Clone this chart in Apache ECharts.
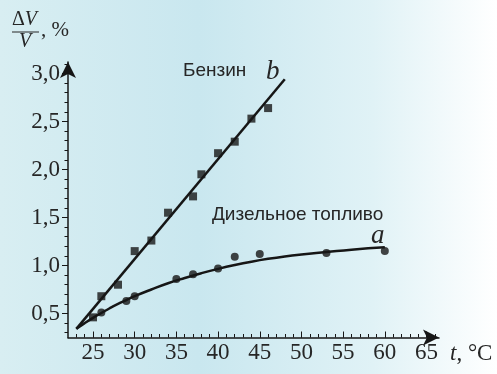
<!DOCTYPE html>
<html><head><meta charset="utf-8">
<script src="https://cdn.jsdelivr.net/npm/echarts@6/dist/echarts.min.js"></script>
<style>html,body{margin:0;padding:0;}#c{width:497px;height:374px;}</style>
</head><body><div id="c"></div>
<script>
// Benzin (gasoline) measurements — squares
const tempB = [25, 26, 28, 30, 32, 34, 37, 38, 40, 42, 44, 46];
const valB  = [0.46, 0.68, 0.80, 1.15, 1.26, 1.55, 1.72, 1.95, 2.17, 2.29, 2.53, 2.64];
// Diesel measurements — circles
const tempD = [26, 29, 30, 35, 37, 40, 42, 45, 53, 60];
const valD  = [0.51, 0.63, 0.68, 0.86, 0.91, 0.97, 1.09, 1.12, 1.13, 1.15];
// Fitted line b
const fitTB = [23, 48];
const fitVB = [0.34, 2.94];
// Fitted curve a
const fitTA = [23, 24, 25, 26, 27, 28, 29, 30, 32, 34, 36, 38, 40, 42, 44, 46, 48, 50, 53, 56, 60];
const fitVA = [0.34, 0.40, 0.455, 0.505, 0.555, 0.60, 0.64, 0.68, 0.75, 0.815, 0.87, 0.92, 0.965, 1.005, 1.04, 1.07, 1.095, 1.115, 1.14, 1.165, 1.19];
// Tick labels
const xLabels = [25, 30, 35, 40, 45, 50, 55, 60, 65];
const xMinor = [23,24,25,26,27,28,29,30,31,32,33,34,35,36,37,38,39,40,41,42,43,44,45,46,47,48,49,50,51,52,53,54,55,56,57,58,59,60,61,62,63,64,65,66];
const yLabels = [0.5, 1.0, 1.5, 2.0, 2.5, 3.0];
const yMinor = [0.3,0.4,0.5,0.6,0.7,0.8,0.9,1.0,1.1,1.2,1.3,1.4,1.5,1.6,1.7,1.8,1.9,2.0,2.1,2.2,2.3,2.4,2.5,2.6,2.7,2.8,2.9,3.0,3.1];

const zip = (a, b) => a.map((v, i) => [v, b[i]]);
const ink = '#161616';
const txt = '#262626';
const serif = '"Liberation Serif", "Times New Roman", serif';
const sans = '"Liberation Sans", Arial, sans-serif';

const chart = echarts.init(document.getElementById('c'), null, {renderer: 'canvas'});
const xBase = {type: 'value', min: 22, max: 66.5, splitLine: {show: false}};
const yBase = {type: 'value', min: 0.25, max: 3.12, splitLine: {show: false}};
chart.setOption({
  animation: false,
  backgroundColor: {type: 'linear', x: 0, y: 0, x2: 1, y2: 0, colorStops: [
    {offset: 0, color: '#d8eef2'}, {offset: 0.4, color: '#c9e7ef'},
    {offset: 0.75, color: '#e0f2f6'}, {offset: 1, color: '#ffffff'}]},
  grid: {left: 68, top: 62, right: 58, bottom: 36.5},
  xAxis: [
    Object.assign({}, xBase, {
      axisLine: {show: true, symbol: ['none', 'arrow'], symbolSize: [12, 16], lineStyle: {color: ink, width: 1.5}},
      axisTick: {show: true, inside: true, length: 3.5, customValues: xMinor, lineStyle: {color: ink}},
      axisLabel: {customValues: xLabels, color: txt, fontFamily: serif, fontSize: 23, margin: 4}
    }),
    Object.assign({}, xBase, {
      position: 'bottom',
      axisLine: {show: false},
      axisTick: {show: true, inside: true, length: 6, customValues: xLabels, lineStyle: {color: ink}},
      axisLabel: {show: false}
    })
  ],
  yAxis: [
    Object.assign({}, yBase, {
      axisLine: {show: true, symbol: ['none', 'arrow'], symbolSize: [12, 16], lineStyle: {color: ink, width: 1.5}},
      axisTick: {show: true, inside: false, length: 3.5, customValues: yMinor, lineStyle: {color: ink}},
      axisLabel: {customValues: yLabels, color: txt, fontFamily: serif, fontSize: 23, margin: 8,
        formatter: v => v.toFixed(1).replace('.', ',')}
    }),
    Object.assign({}, yBase, {
      position: 'left',
      axisLine: {show: false},
      axisTick: {show: true, inside: false, length: 6, customValues: yLabels, lineStyle: {color: ink}},
      axisLabel: {show: false}
    })
  ],
  series: [
    {type: 'line', data: zip(fitTB, fitVB), showSymbol: false, lineStyle: {color: ink, width: 2.5}, silent: true},
    {type: 'line', data: zip(fitTA, fitVA), smooth: 0.5, showSymbol: false, lineStyle: {color: ink, width: 2.5}, silent: true},
    {type: 'scatter', data: zip(tempB, valB), symbol: 'rect', symbolSize: 8, itemStyle: {color: ink}},
    {type: 'scatter', data: zip(tempD, valD), symbol: 'circle', symbolSize: 8, itemStyle: {color: ink}}
  ],
  graphic: [
    {type: 'text', left: 183, top: 61, style: {text: 'Бензин', font: '19px ' + sans, fill: txt}},
    {type: 'text', left: 212, top: 205, style: {text: 'Дизельное топливо', font: '19px ' + sans, fill: txt}},
    {type: 'text', left: 266, top: 58, style: {text: 'b', font: 'italic 27px ' + serif, fill: txt}},
    {type: 'text', left: 371, top: 222, style: {text: 'a', font: 'italic 27px ' + serif, fill: txt}},
    {type: 'text', left: 12, top: 10, style: {text: 'Δ{i|V}', font: '20px ' + serif, fill: txt,
      rich: {i: {fontStyle: 'italic', fontFamily: serif, fontSize: 20, fill: txt}}}},
    {type: 'line', shape: {x1: 12, y1: 32, x2: 39, y2: 32}, style: {stroke: txt, lineWidth: 1}},
    {type: 'text', left: 19, top: 32, style: {text: 'V', font: 'italic 20px ' + serif, fill: txt}},
    {type: 'text', left: 41, top: 20, style: {text: ', %', font: '21px ' + serif, fill: txt}},
    {type: 'text', left: 450, top: 342, style: {text: '{i|t}, °C', font: '23px ' + serif, fill: txt,
      rich: {i: {fontStyle: 'italic', fontFamily: serif, fontSize: 23, fill: txt}}}}
  ]
});
</script></body></html>
